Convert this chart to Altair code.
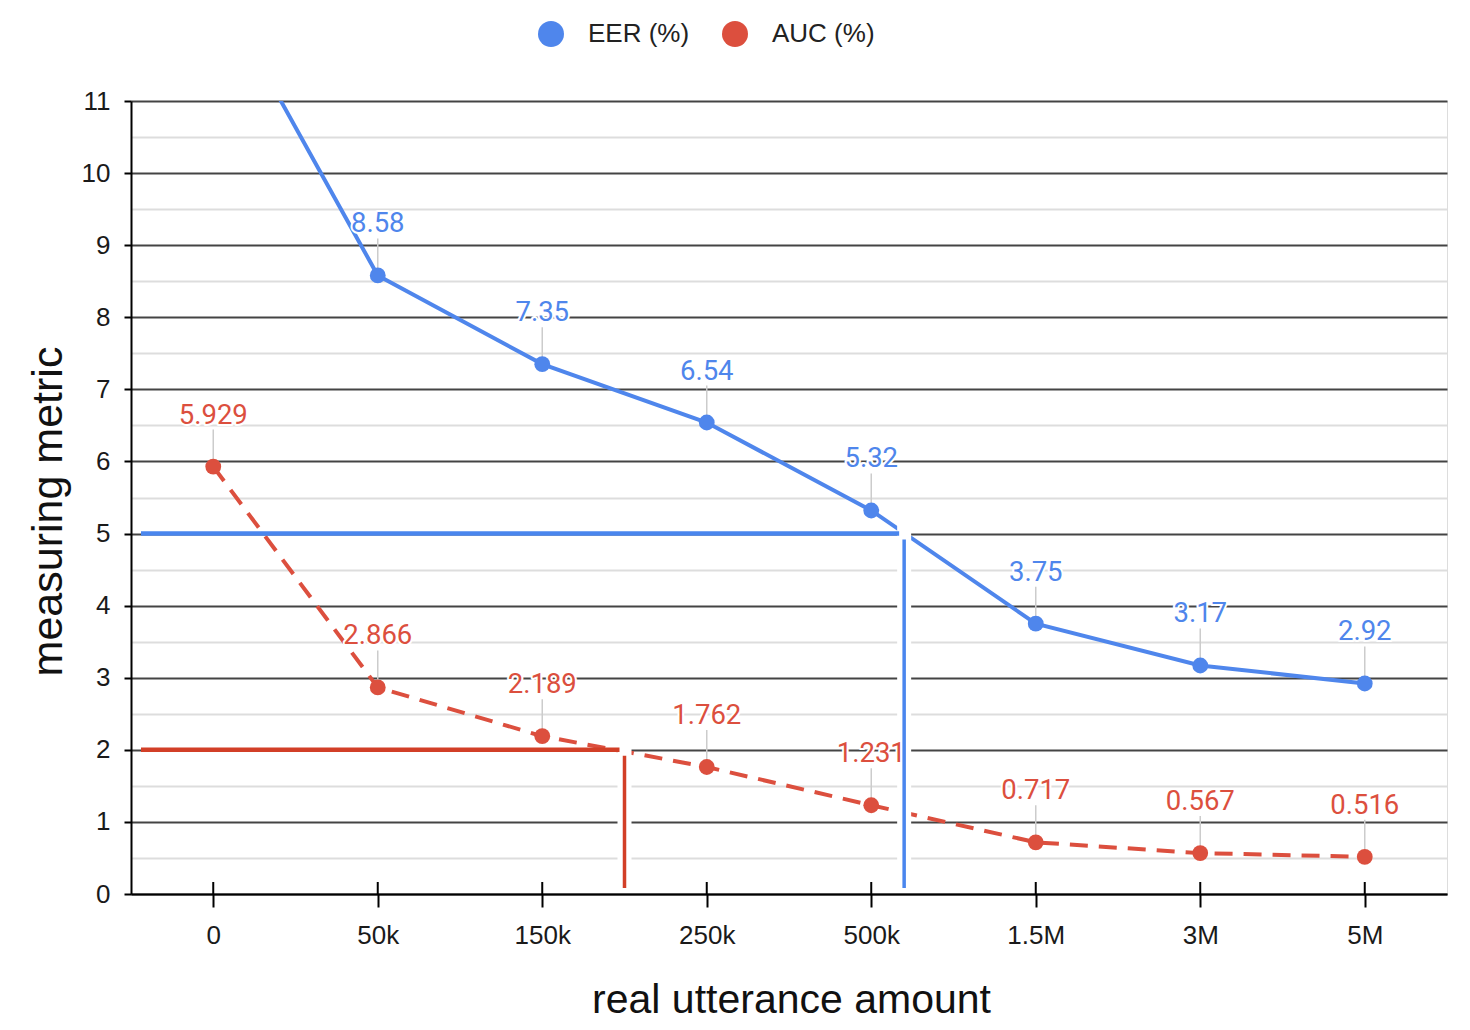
import json
import altair as alt
import pandas as pd

# ---------------- data ----------------
categories = ["0", "50k", "150k", "250k", "500k", "1.5M", "3M", "5M"]
eer_values = [12.69, 8.58, 7.35, 6.54, 5.32, 3.75, 3.17, 2.92]
auc_values = [5.929, 2.866, 2.189, 1.762, 1.231, 0.717, 0.567, 0.516]
series_names = ["EER (%)", "AUC (%)"]

# target levels and where their marker lines were placed (category-index units)
threshold_levels = [5, 2]
threshold_at = [4.2, 2.5]

Y_MAX = 11

# ---------------- styles ----------------
BLUE = "#4F86EC"
RED = "#DC4F3E"
BLUE_T = "#4A86EE"
RED_T = "#D23F27"
FONT = "Liberation Sans"

rows = []
for name, vals in zip(series_names, [eer_values, auc_values]):
    for i, (c, v) in enumerate(zip(categories, vals)):
        rows.append({"idx": i, "category": c, "series": name, "value": v, "label": str(v)})
df = pd.DataFrame(rows)
eer_df = df[df.series == series_names[0]]
auc_df = df[df.series == series_names[1]]
visible_df = df[df.value <= Y_MAX]

thr_df = pd.DataFrame({
    "series": series_names,
    "value": threshold_levels,
    "idx": threshold_at,
})
cat_df = pd.DataFrame({"idx": list(range(len(categories))), "category": categories})

label_expr = json.dumps(categories) + "[datum.value]"

x_scale = alt.Scale(domain=[-0.5, len(categories) - 0.5], nice=False, zero=False)
y_scale = alt.Scale(domain=[0, Y_MAX], nice=False, zero=True)

x_axis = alt.Axis(
    values=list(range(len(categories))),
    labelExpr=label_expr,
    grid=False,
    domainColor="#000000", domainWidth=2,
    tickColor="#000000", tickWidth=2, tickSize=13,
    labelPadding=15, labelFontSize=26, labelFont=FONT, labelColor="#1a1a1a",
    title="real utterance amount", titleFontSize=41, titleFont=FONT,
    titleFontWeight="normal", titleColor="#111111",
    titleBaseline="alphabetic", titleY=118, titleX=660,
)
y_axis = alt.Axis(
    values=[i * 0.5 for i in range(2 * Y_MAX + 1)],
    labelExpr="datum.value % 1 === 0 ? format(datum.value, 'd') : ''",
    grid=True,
    gridColor={"condition": {"test": "datum.value % 1 === 0", "value": "#444444"}, "value": "#dddddd"},
    gridWidth=2,
    domainColor="#000000", domainWidth=2,
    tickColor="#000000", tickWidth=2, tickSize=7,
    tickOpacity={"condition": {"test": "datum.value % 1 === 0", "value": 1}, "value": 0},
    labelPadding=14, labelFontSize=26, labelFont=FONT, labelColor="#1a1a1a",
    title="measuring metric", titleFontSize=43, titleFont=FONT,
    titleFontWeight="normal", titleColor="#111111",
    titleBaseline="alphabetic", titleAngle=270, titleAlign="center",
    titleX=-70, titleY=410,
)

def X(f="idx:Q"):
    return alt.X(f, scale=x_scale, axis=x_axis)

def Y(f="value:Q"):
    return alt.Y(f, scale=y_scale, axis=y_axis)

stroke_scale = alt.Scale(domain=series_names, range=[BLUE, RED])
thr_scale = alt.Scale(domain=series_names, range=[BLUE_T, RED_T])

# data lines
eer_line = alt.Chart(eer_df).mark_line(strokeWidth=4, clip=True, color=BLUE).encode(x=X(), y=Y())
auc_line = alt.Chart(auc_df).mark_line(strokeWidth=4, clip=True, color=RED,
                                       strokeDash=[18, 11]).encode(x=X(), y=Y())

# leader lines from point to label
leaders = alt.Chart(visible_df).mark_rule(color="#cccccc", strokeWidth=1.5, yOffset=-7,
                                          y2Offset=-37).encode(x=X(), y=Y(), y2="value:Q")

# white bands behind the vertical marker lines
bands = alt.Chart(thr_df).transform_calculate(zero="0").mark_rule(
    color="white", strokeWidth=14, yOffset=-9, y2Offset=-1).encode(
    x=X(), y=Y(), y2="zero:Q")

# points
points = alt.Chart(visible_df).mark_circle(size=250, opacity=1).encode(
    x=X(), y=Y(),
    fill=alt.Fill("series:N", scale=stroke_scale, legend=alt.Legend(
        orient="none", legendX=407, legendY=-80, direction="horizontal", title=None,
        symbolType="circle", symbolSize=676, symbolStrokeWidth=0, symbolOpacity=1,
        labelFontSize=26, labelFont=FONT, labelColor="#222222", labelOffset=24,
        columnPadding=32,
    )),
)

# labels with white halo
halo = alt.Chart(visible_df).mark_text(dy=-51, baseline="middle", font="Roboto", fontSize=27.5,
                                       stroke="white", strokeWidth=4, strokeJoin="round",
                                       fill="white").encode(x=X(), y=Y(), text="label:N")
labels = alt.Chart(visible_df).mark_text(dy=-51, baseline="middle", font="Roboto",
                                         fontSize=27.5).encode(
    x=X(), y=Y(), text="label:N",
    color=alt.Color("series:N", scale=stroke_scale, legend=None))

# marker lines
thr_h = alt.Chart(thr_df).mark_rule(strokeWidth=4.5, xOffset=-5).encode(
    x=X(), x2=alt.value(10), y=Y(),
    stroke=alt.Stroke("series:N", scale=thr_scale, legend=None))
thr_v = alt.Chart(thr_df).transform_calculate(zero="0").mark_rule(
    strokeWidth=3.5, yOffset=6, y2Offset=-6).encode(
    x=X(), y=Y(), y2="zero:Q",
    stroke=alt.Stroke("series:N", scale=thr_scale, legend=None))

# upper half of the category ticks crossing the x axis
top_ticks = alt.Chart(cat_df).transform_calculate(zero="0").mark_rule(
    color="#000000", strokeWidth=2, y2Offset=-12).encode(
    x=X(), y=Y("zero:Q"), y2="zero:Q")

chart = alt.layer(
    eer_line, auc_line, leaders, points, bands, halo, labels, thr_h, thr_v, top_ticks
).properties(
    width=1316, height=793,
    autosize=alt.AutoSizeParams(type="none"),
    padding={"left": 123, "top": 93, "right": 12, "bottom": 126},
).configure_view(stroke=None).configure(background="white")

chart.save("out.html", embed_options={"renderer": "svg", "actions": False})
